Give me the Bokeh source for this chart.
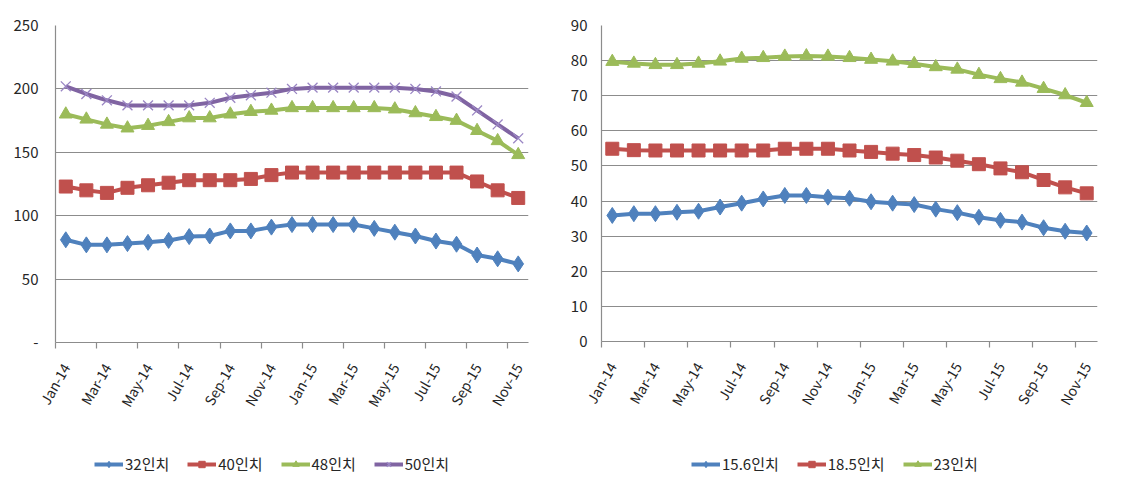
import math
from bokeh.plotting import figure
from bokeh.models import FixedTicker, Legend, LegendItem, Range1d
from bokeh.layouts import row, column
from bokeh.embed import file_html
from bokeh.resources import INLINE

months = ["Jan-14", "Feb-14", "Mar-14", "Apr-14", "May-14", "Jun-14", "Jul-14", "Aug-14",
          "Sep-14", "Oct-14", "Nov-14", "Dec-14", "Jan-15", "Feb-15", "Mar-15", "Apr-15",
          "May-15", "Jun-15", "Jul-15", "Aug-15", "Sep-15", "Oct-15", "Nov-15"]

# Left chart (TV panels)
tv_names = ["32인치", "40인치", "48인치", "50인치"]
tv_32 = [81, 77, 77, 78, 79, 80.5, 83.5, 84, 88, 88, 91, 93, 93, 93, 93, 90, 87, 84, 80, 77.5, 69, 66, 62]
tv_40 = [123, 120, 118, 122, 124, 126, 128, 128, 128, 129, 132, 134, 134, 134, 134, 134, 134, 134, 134, 134, 127, 120, 114]
tv_48 = [180, 176, 172, 169, 171, 174, 177, 177, 180, 182, 183, 185, 185, 185, 185, 185, 184, 181, 178, 175, 167, 159, 148]
tv_50 = [202, 196, 191, 187, 187, 187, 187, 189, 193, 195, 197, 200, 201, 201, 201, 201, 201, 200, 198, 194, 183, 172, 161]
left_yticks = [0, 50, 100, 150, 200, 250]

# Right chart (monitor panels)
mon_names = ["15.6인치", "18.5인치", "23인치"]
mon_156 = [35.9, 36.4, 36.4, 36.8, 37.1, 38.3, 39.4, 40.6, 41.6, 41.6, 41.1, 40.8, 39.8, 39.4, 39.0, 37.7, 36.7, 35.4, 34.5, 34.0, 32.4, 31.4, 30.9]
mon_185 = [54.9, 54.5, 54.4, 54.4, 54.4, 54.4, 54.4, 54.4, 54.9, 54.9, 54.9, 54.4, 54.0, 53.5, 53.1, 52.4, 51.5, 50.5, 49.3, 48.2, 46.0, 43.9, 42.2]
mon_23 = [79.7, 79.2, 78.8, 78.8, 79.2, 79.8, 80.6, 80.8, 81.2, 81.3, 81.2, 80.8, 80.3, 79.8, 79.1, 78.2, 77.5, 76.0, 74.8, 73.8, 72.0, 70.2, 68.0]
right_yticks = [0, 10, 20, 30, 40, 50, 60, 70, 80, 90]

colors = ["#4F81BD", "#C0504D", "#9BBB59", "#8064A2"]
markers = ["diamond", "square", "triangle", "x"]
marker_sizes = [16, 13, 13, 14]

FONT = "Noto Sans CJK KR"
TEXT = "#262626"
GRID = "#8c8c8c"

x = list(range(len(months)))
label_ticks = list(range(0, len(months), 2))
minor = [t - 0.5 for t in label_ticks]


def add_series(p, i, ys):
    c = colors[i]
    ln = p.line(x, ys, line_width=4, line_color=c)
    if markers[i] == "x":
        sc = p.scatter(x, ys, marker="x", size=marker_sizes[i], line_color="#9A86C4", line_width=1.3)
    else:
        sc = p.scatter(x, ys, marker=markers[i], size=marker_sizes[i], fill_color=c, line_color=c)
    return [ln, sc]


def make_fig(series, ymax, yticks, zero_label, fw, fh, bl, br, bt, bb, ylab_standoff):
    p = figure(frame_width=fw, frame_height=fh, min_border_left=bl, min_border_right=br,
               min_border_top=bt, min_border_bottom=bb, output_backend="svg",
               toolbar_location=None, x_range=Range1d(-0.5, len(months) - 0.5),
               y_range=Range1d(0, ymax))
    p.outline_line_color = None
    p.xgrid.visible = False
    p.ygrid.grid_line_color = GRID
    p.ygrid.grid_line_width = 1.2
    p.ygrid.ticker = FixedTicker(ticks=yticks)

    xa = p.xaxis[0]
    xa.ticker = FixedTicker(ticks=label_ticks, minor_ticks=minor)
    xa.major_label_overrides = {t: months[t] for t in label_ticks}
    xa.major_label_orientation = 1.05
    xa.major_tick_out = 0
    xa.major_tick_in = 0
    xa.minor_tick_out = 6
    xa.minor_tick_in = 0
    xa.minor_tick_line_color = GRID
    xa.minor_tick_line_width = 1.2
    xa.axis_line_color = GRID
    xa.axis_line_width = 1.2
    xa.major_label_standoff = 16
    xa.major_label_text_font = FONT
    xa.major_label_text_font_size = "14px"
    xa.major_label_text_color = TEXT

    ya = p.yaxis[0]
    ya.ticker = FixedTicker(ticks=yticks)
    ya.major_label_overrides = {0: zero_label}
    ya.major_tick_out = 5
    ya.major_tick_in = 0
    ya.major_tick_line_color = None
    ya.minor_tick_line_color = None
    ya.axis_line_color = GRID
    ya.axis_line_width = 1.2
    ya.major_label_standoff = ylab_standoff
    ya.major_label_text_font = FONT
    ya.major_label_text_font_size = "15px"
    ya.major_label_text_color = TEXT

    for i, ys in enumerate(series):
        add_series(p, i, ys)
    return p


def make_legend_fig(series, names, w, h, lx, ly):
    # a strip holding only the legend; its series sit outside the visible range
    q = figure(width=w, height=h, min_border=0, output_backend="svg", toolbar_location=None,
               x_axis_location=None, y_axis_location=None,
               x_range=Range1d(1000, 1001), y_range=Range1d(0, 1))
    q.outline_line_color = None
    q.grid.visible = False
    items = []
    for i, (ys, nm) in enumerate(zip(series, names)):
        items.append(LegendItem(label=nm, renderers=add_series(q, i, ys)))
    lg = Legend(items=items, orientation="horizontal", location=(lx, ly),
                border_line_color=None, background_fill_alpha=0,
                label_text_font=FONT, label_text_font_size="15px", label_text_color=TEXT,
                glyph_width=29, glyph_height=16, spacing=18, label_standoff=2, padding=4, margin=0)
    q.add_layout(lg)
    return q


left_series = [tv_32, tv_40, tv_48, tv_50]
right_series = [mon_156, mon_185, mon_23]

p1 = make_fig(left_series, 250, left_yticks, "-", 473, 317, 55, 32, 25, 96, 12)
p2 = make_fig(right_series, 90, right_yticks, "0", 496, 316, 41, 18, 25, 97, 9)
l1 = make_legend_fig(left_series, tv_names, 560, 44, 39, 8)
l2 = make_legend_fig(right_series, mon_names, 555, 44, 90, 8)

layout = row(column(p1, l1, spacing=0), column(p2, l2, spacing=0), spacing=0)
open("out.html", "w").write(file_html(layout, INLINE))
